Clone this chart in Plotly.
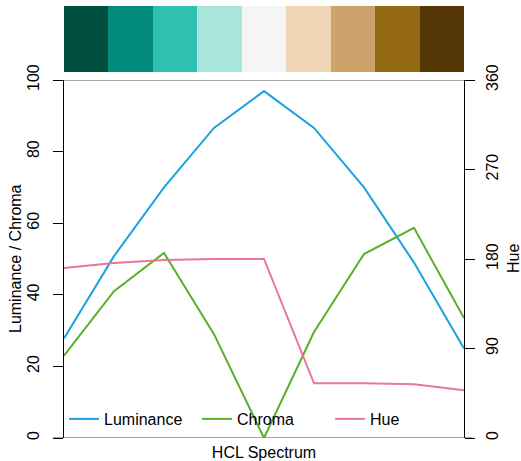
import plotly.graph_objects as go

palette = ["#01503F", "#008A7B", "#2EC0B1", "#A9E5DC", "#F5F5F5",
           "#EFD4B6", "#CCA46B", "#946A12", "#543704"]
positions = list(range(1, 10))
luminance = [27.8, 50.8, 70.0, 86.6, 96.9, 86.6, 70.0, 49.0, 25.0]
chroma = [23.0, 41.0, 51.7, 29.0, 0.0, 29.6, 51.4, 58.7, 33.5]
hue = [171, 176, 179, 180, 180, 55, 55, 54, 48]

FONT = "Liberation Sans, Arial, sans-serif"
FS = 16

fig = go.Figure()

# palette swatches
fig.add_trace(go.Bar(x=positions, y=[1] * 9, width=1, marker=dict(color=palette, line=dict(width=0)),
                     xaxis="x2", yaxis="y3", showlegend=False, hoverinfo="skip"))

fig.add_trace(go.Scatter(x=positions, y=luminance, mode="lines", name="Luminance",
                         line=dict(color="#1BA3E0", width=2)))
fig.add_trace(go.Scatter(x=positions, y=chroma, mode="lines", name="Chroma",
                         line=dict(color="#5BAE2A", width=2)))
fig.add_trace(go.Scatter(x=positions, y=hue, mode="lines", name="Hue", yaxis="y2",
                         line=dict(color="#E8779A", width=2)))

main_top = (438 - 80) / 432
sw_bot = (438 - 72) / 432

fig.update_layout(
    width=521, height=461,
    margin=dict(l=64, r=57, t=6, b=23, pad=0),
    paper_bgcolor="white", plot_bgcolor="white",
    font=dict(family=FONT, size=FS, color="black"),
    bargap=0,
    xaxis=dict(range=[1, 9], domain=[0, 1], showticklabels=False, ticks="", showgrid=False,
               zeroline=False, showline=False, automargin=False,
               title=dict(text="HCL Spectrum", standoff=8, font=dict(size=FS))),
    yaxis=dict(range=[0, 100], domain=[0, main_top], tickvals=[0, 20, 40, 60, 80, 100],
               tickangle=-90, ticks="outside", ticklen=10, tickcolor="black", automargin=False,
               ticklabelstandoff=8,
               showline=True, linecolor="black", linewidth=1, showgrid=False, zeroline=False),
    yaxis2=dict(range=[0, 360], overlaying="y", side="right", tickvals=[0, 90, 180, 270, 360],
                tickangle=-90, ticks="outside", ticklen=10, tickcolor="black", automargin=False,
                ticklabelstandoff=4,
                showline=True, linecolor="black", linewidth=1, showgrid=False, zeroline=False),
    xaxis2=dict(range=[0.5, 9.5], domain=[0, 1], anchor="y3", visible=False, automargin=False),
    yaxis3=dict(range=[0, 1], domain=[sw_bot, 1], anchor="x2", visible=False, automargin=False),
    legend=dict(orientation="h", x=0, y=0.044, xanchor="left", yanchor="middle",
                bgcolor="rgba(0,0,0,0)", font=dict(size=FS), entrywidth=88,
                entrywidthmode="pixels", itemwidth=30),
    annotations=[
        dict(text="Luminance / Chroma", xref="paper", yref="paper", x=(15 - 64) / 400,
             y=main_top / 2, textangle=-90, showarrow=False, xanchor="center", yanchor="middle",
             font=dict(size=FS)),
        dict(text="Hue", xref="paper", yref="paper", x=(513 - 64) / 400,
             y=main_top / 2, textangle=-90, showarrow=False, xanchor="center", yanchor="middle",
             font=dict(size=FS)),
    ],
    shapes=[
        dict(type="line", xref="paper", yref="y", x0=-0.027, x1=1.022, y0=0, y1=0,
             line=dict(color="#888888", width=1.5), layer="below"),
        dict(type="line", xref="paper", yref="y", x0=-0.027, x1=1.022, y0=100, y1=100,
             line=dict(color="#888888", width=1.5), layer="below"),
    ],
)

fig.write_html("out.html", post_script="document.body.style.margin='0';",
               config={"displayModeBar": False})
